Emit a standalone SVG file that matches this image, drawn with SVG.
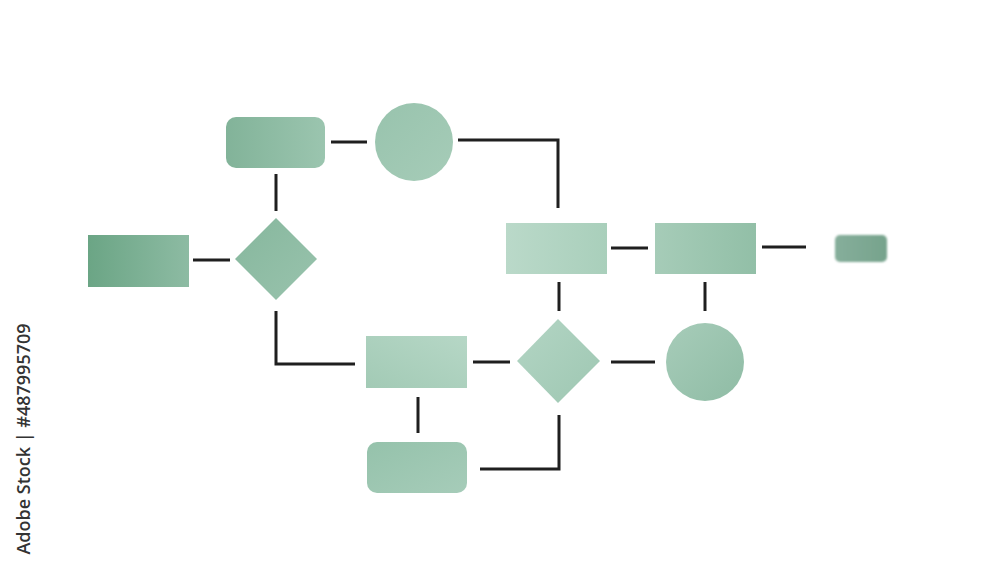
<svg xmlns="http://www.w3.org/2000/svg" width="1000" height="563" viewBox="0 0 1000 563">
<style>
.c{fill:none;stroke:#1f1f1f;stroke-width:3;stroke-linecap:butt;stroke-linejoin:miter}
.wm{font-family:"Open Sans","Liberation Sans",sans-serif;font-size:18px;font-weight:600;fill:#333333}
</style>
<defs>
<linearGradient id="gL" x1="0" y1="0" x2="1" y2="0"><stop offset="0" stop-color="#6ba585"/><stop offset="1" stop-color="#8dbba3"/></linearGradient>
<linearGradient id="gT" x1="0" y1="0" x2="1" y2="0"><stop offset="0" stop-color="#82b399"/><stop offset="1" stop-color="#9bc5af"/></linearGradient>
<linearGradient id="gC1" x1="0" y1="0" x2="1" y2="1"><stop offset="0" stop-color="#98c3ad"/><stop offset="1" stop-color="#a6ccb8"/></linearGradient>
<linearGradient id="gD1" x1="0" y1="0" x2="1" y2="1"><stop offset="0" stop-color="#86b79d"/><stop offset="1" stop-color="#99c3ad"/></linearGradient>
<linearGradient id="gA" x1="0" y1="0" x2="1" y2="0"><stop offset="0" stop-color="#bad9c9"/><stop offset="1" stop-color="#a9cfbb"/></linearGradient>
<linearGradient id="gB" x1="0" y1="0" x2="1" y2="0"><stop offset="0" stop-color="#a6ccb8"/><stop offset="1" stop-color="#92bfa7"/></linearGradient>
<linearGradient id="gS" x1="0" y1="0" x2="1" y2="0"><stop offset="0" stop-color="#86ae9b"/><stop offset="1" stop-color="#76a38c"/></linearGradient>
<linearGradient id="gD2" x1="0" y1="0" x2="1" y2="1"><stop offset="0" stop-color="#b3d5c4"/><stop offset="1" stop-color="#9ec7b2"/></linearGradient>
<linearGradient id="gC2" x1="0" y1="0" x2="1" y2="1"><stop offset="0" stop-color="#a7ccb9"/><stop offset="1" stop-color="#8fbca5"/></linearGradient>
<linearGradient id="gRC" x1="0" y1="1" x2="1" y2="0"><stop offset="0" stop-color="#a2cab5"/><stop offset="1" stop-color="#b6d7c6"/></linearGradient>
<linearGradient id="gRD" x1="0" y1="0" x2="1" y2="1"><stop offset="0" stop-color="#95c2ab"/><stop offset="1" stop-color="#a6ccb9"/></linearGradient>
<filter id="blur" x="-20%" y="-20%" width="140%" height="140%"><feGaussianBlur stdDeviation="1"/></filter>
</defs>
<rect width="1000" height="563" fill="#ffffff"/>
<g id="connectors">
<line class="c" x1="331" y1="142" x2="367" y2="142"/>
<polyline class="c" points="458,140 558,140 558,208"/>
<line class="c" x1="276" y1="174" x2="276" y2="211"/>
<line class="c" x1="193" y1="260" x2="230" y2="260"/>
<polyline class="c" points="276,311 276,364 355,364"/>
<line class="c" x1="611" y1="248" x2="648" y2="248"/>
<line class="c" x1="762" y1="247" x2="806" y2="247"/>
<line class="c" x1="559" y1="282" x2="559" y2="311"/>
<line class="c" x1="705" y1="282" x2="705" y2="311"/>
<line class="c" x1="473" y1="362" x2="510" y2="362"/>
<line class="c" x1="611" y1="362" x2="655" y2="362"/>
<line class="c" x1="418" y1="397" x2="418" y2="433"/>
<polyline class="c" points="480,469 559,469 559,415"/>
</g>
<g id="start-rect"><rect x="88" y="235" width="101" height="52" fill="url(#gL)"/></g>
<g id="decision-1"><polygon points="276,218 317,259 276,300 235,259" fill="url(#gD1)"/></g>
<g id="top-rounded"><rect x="226" y="117" width="99" height="51" rx="10" fill="url(#gT)"/></g>
<g id="top-circle"><circle cx="414" cy="142" r="39" fill="url(#gC1)"/></g>
<g id="rect-a"><rect x="506" y="223" width="101" height="51" fill="url(#gA)"/></g>
<g id="rect-b"><rect x="655" y="223" width="101" height="51" fill="url(#gB)"/></g>
<g id="end-small"><rect x="835" y="235" width="52" height="27" rx="5" fill="url(#gS)" filter="url(#blur)"/></g>
<g id="rect-c"><rect x="366" y="336" width="101" height="52" fill="url(#gRC)"/></g>
<g id="decision-2"><polygon points="558,319 600,361 558,403 517,361" fill="url(#gD2)"/></g>
<g id="circle-2"><circle cx="705" cy="362" r="39" fill="url(#gC2)"/></g>
<g id="bottom-rounded"><rect x="367" y="442" width="100" height="51" rx="10" fill="url(#gRD)"/></g>
<text class="wm" transform="translate(30,439) rotate(-90)" text-anchor="middle">Adobe Stock | #487995709</text>
</svg>
